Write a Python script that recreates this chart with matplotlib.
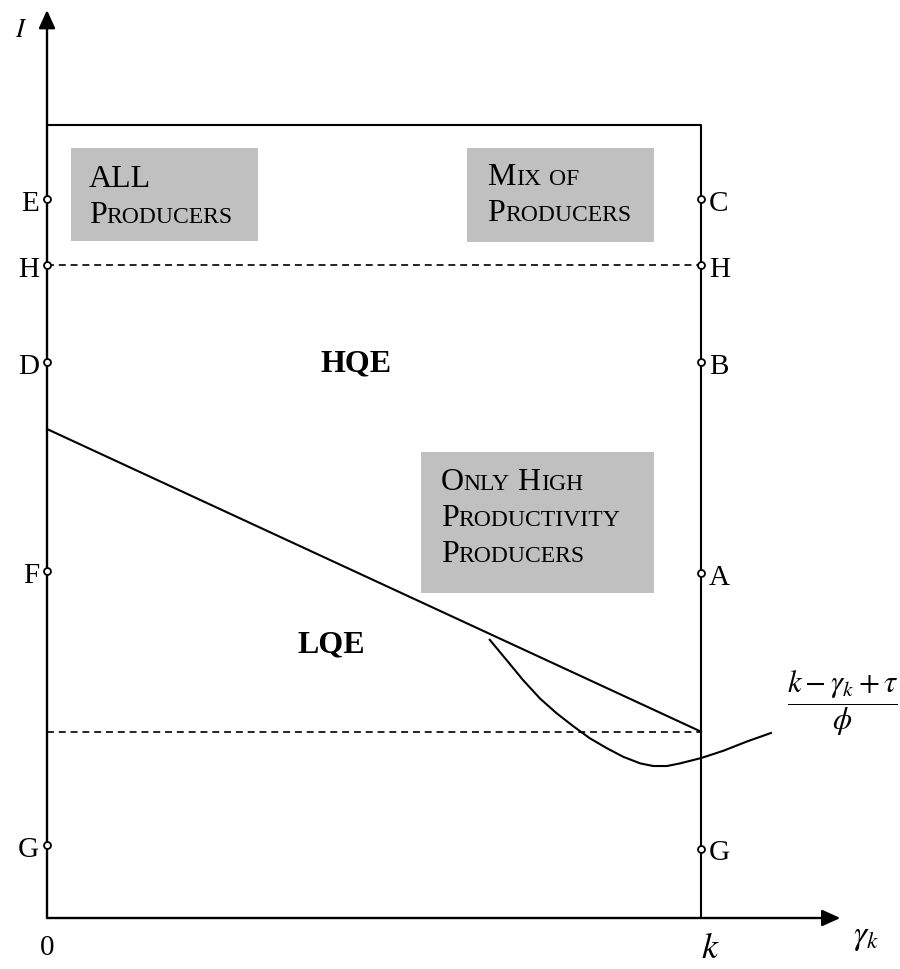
import re
import matplotlib
matplotlib.use("Agg")
import matplotlib.pyplot as plt
from matplotlib.transforms import offset_copy

plt.rcParams['font.family'] = ['Liberation Serif', 'DejaVu Serif']
plt.rcParams['mathtext.fontset'] = 'stix'
plt.rcParams['lines.scale_dashes'] = False

# diagram values (gamma_k on x, I on y)
k = 10.0
top = 12.0
x_tip, y_tip = 12.13, 13.74

left_names = ["E", "H", "D", "F", "G"]
left_vals = [10.88, 9.88, 8.41, 5.25, 1.10]
right_names = ["C", "H", "B", "A", "G"]
right_vals = [10.88, 9.88, 8.41, 5.22, 1.05]

h_level = 9.88
low_level = 2.82
boundary_x = [0.0, k]
boundary_y = [7.40, low_level]

curve_x = [6.77, 7.03, 7.28, 7.54, 7.79, 8.05, 8.30, 8.56, 8.81, 9.07, 9.27,
           9.48, 9.68, 10.0, 10.34, 10.70, 11.07]
curve_y = [4.21, 3.90, 3.60, 3.32, 3.10, 2.90, 2.72, 2.57, 2.44, 2.34, 2.30,
           2.30, 2.34, 2.42, 2.53, 2.67, 2.80]

# shaded label boxes: (x0, x1, y0, y1), first baseline, lines
boxes = [
    ((0.367, 3.226, 10.245, 11.65), (0.64, 11.06), ["ALL", "Producers"]),
    ((6.42, 9.28, 10.23, 11.65), (6.73, 11.09), ["Mix of", "Producers"]),
    ((5.72, 9.28, 4.92, 7.05), (6.02, 6.48), ["Only High", "Productivity", "Producers"]),
]
line_gap = 0.545

fig = plt.figure(figsize=(9, 9.69), dpi=100)
ax = fig.add_axes([0, 0, 1, 1])
ax.set_xlim(-47 / 65.4, 853 / 65.4)
ax.set_ylim(-51 / 66.08, 918 / 66.08)
ax.axis('off')

# axes with arrow heads
arrow = dict(arrowstyle='-|>,head_length=1.1,head_width=0.5', lw=1.7, color='k',
             shrinkA=0, shrinkB=0)
ax.annotate('', xy=(0, y_tip), xytext=(0, 0), arrowprops=arrow)
ax.annotate('', xy=(x_tip, 0), xytext=(0, 0), arrowprops=arrow)

# box outline
ax.plot([0, k, k], [top, top, 0], color='k', lw=1.5, solid_capstyle='butt')

# dashed levels
ax.plot([0, k], [h_level, h_level], color='k', lw=1.2, dashes=(5, 3.5))
ax.plot([0, k], [low_level, low_level], color='k', lw=1.2, dashes=(5, 3.5))

# boundary line and curve
ax.plot(boundary_x, boundary_y, color='k', lw=1.5)
ax.plot(curve_x, curve_y, color='k', lw=1.5)

# points on the two vertical axes
ax.plot([0] * len(left_vals), left_vals, 'o', ms=5, mfc='white', mec='k', mew=1.3, zorder=5)
ax.plot([k] * len(right_vals), right_vals, 'o', ms=5, mfc='white', mec='k', mew=1.3, zorder=5)
for name, v in zip(left_names, left_vals):
    ax.text(-0.12, v - 0.07, name, fontsize=21, ha='right', va='center')
for name, v in zip(right_names, right_vals):
    ax.text(k + 0.12, v - 0.07, name, fontsize=21, ha='left', va='center')

renderer = fig.canvas.get_renderer()


def smallcaps(x, y, text, big=23, small=17):
    dx = 0
    for run in re.findall(r'[a-z]+|[^a-z]+', text):
        size = small if run.islower() else big
        t = ax.text(x, y, run.upper(), fontsize=size, va='baseline', ha='left',
                    transform=offset_copy(ax.transData, fig=fig, x=dx, y=0, units='dots'))
        dx += t.get_window_extent(renderer).width


for (x0, x1, y0, y1), (tx, ty), lines in boxes:
    ax.fill([x0, x1, x1, x0], [y0, y0, y1, y1], color='#c0c0c0', lw=0, zorder=1)
    for i, line in enumerate(lines):
        smallcaps(tx, ty - i * line_gap, line)

ax.text(4.72, 8.38, "HQE", fontsize=23, fontweight='bold', ha='center', va='center')
ax.text(4.34, 4.13, "LQE", fontsize=23, fontweight='bold', ha='center', va='center')

ax.text(-0.40, 13.43, "$I$", fontsize=19, ha='center', va='center')
ax.text(0, -0.45, "0", fontsize=21, ha='center', va='center')
ax.text(k + 0.15, -0.48, "$k$", fontsize=26, ha='center', va='center')
ax.text(12.52, -0.30, r"$\gamma_k$", fontsize=24, ha='center', va='center')
ax.text(12.16, 3.25, r"$\dfrac{k-\gamma_k+\tau}{\phi}$", fontsize=22, ha='center', va='center')

fig.savefig("out.png", dpi=100)
